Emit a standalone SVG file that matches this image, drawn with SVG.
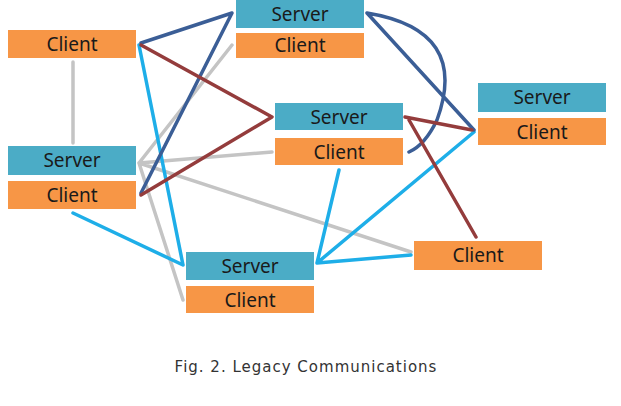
<svg xmlns="http://www.w3.org/2000/svg" width="621" height="406" viewBox="0 0 621 406">
<style>
.s{fill:#4bacc6}.c{fill:#f79646}
text{font-family:"Noto Sans","DejaVu Sans",sans-serif;font-size:19px;fill:#1a1a1a;text-anchor:middle}
.g{stroke:#c4c4c4}.b{stroke:#3b5e96}.r{stroke:#943c3c}.l{stroke:#1eaee8}
#conn *{fill:none;stroke-width:3.5;stroke-linecap:round;stroke-linejoin:round}
.cap{font-family:"DejaVu Sans",sans-serif;font-size:15px;fill:#333;letter-spacing:1px}
</style>
<rect width="621" height="406" fill="#fff"/>
<g id="conn">
<path class="g" d="M73 62V143M139 163L232 45M139 163L272 152M139 163L411 252M139 163L183 300"/>
<path class="l" d="M139 45L183 265M73 213L183 265M317 263L339 170M317 263L474 132M317 263L411 255"/>
<path class="b" d="M141 43L232 13L141 193M367 13L474 130M367 13Q470 30 437 120Q425 145 409 152"/>
<path class="r" d="M141 45L272 117L141 195M405 117L472 130M409 120L476 237"/>
</g>
<g id="n1"><rect class="c" x="8" y="30" width="128" height="28"/><text x="72" y="51">Client</text></g>
<g id="n2"><rect class="s" x="236" y="0" width="128" height="28"/><text x="300" y="21">Server</text><rect class="c" x="236" y="33" width="128" height="25"/><text x="300" y="52">Client</text></g>
<g id="n3"><rect class="s" x="275" y="103" width="128" height="27"/><text x="339" y="124">Server</text><rect class="c" x="275" y="138" width="128" height="27"/><text x="339" y="159">Client</text></g>
<g id="n4"><rect class="s" x="478" y="83" width="128" height="29"/><text x="542" y="104">Server</text><rect class="c" x="478" y="118" width="128" height="27"/><text x="542" y="139">Client</text></g>
<g id="n5"><rect class="s" x="8" y="146" width="128" height="29"/><text x="72" y="167">Server</text><rect class="c" x="8" y="181" width="128" height="28"/><text x="72" y="202">Client</text></g>
<g id="n6"><rect class="s" x="186" y="252" width="128" height="28"/><text x="250" y="273">Server</text><rect class="c" x="186" y="286" width="128" height="27"/><text x="250" y="307">Client</text></g>
<g id="n7"><rect class="c" x="414" y="241" width="128" height="29"/><text x="478" y="262">Client</text></g>
<text class="cap" x="306" y="372">Fig. 2. Legacy Communications</text>
</svg>
